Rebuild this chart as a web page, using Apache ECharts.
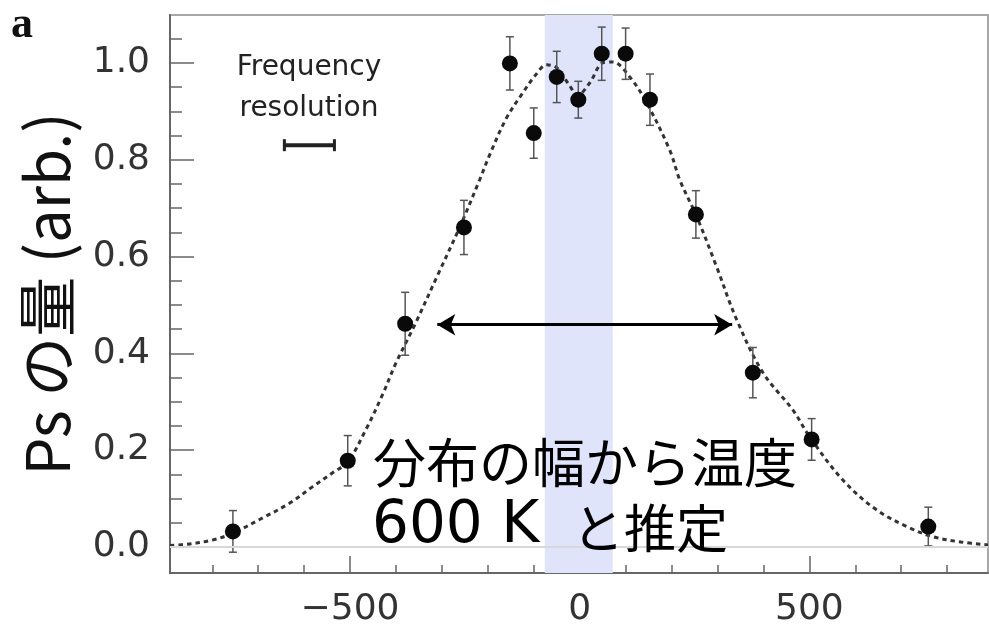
<!DOCTYPE html>
<html>
<head>
<meta charset="utf-8">
<script src="https://cdn.jsdelivr.net/npm/echarts@6/dist/echarts.min.js"></script>
<style>
html,body{margin:0;padding:0;background:#fff;}
#chart{width:989px;height:629px;}
</style>
</head>
<body>
<div id="chart"></div>
<script>
// measured points (x, Ps amount, error)
var ptX = [-755, -505, -380, -252, -152, -100, -50, -3, 48, 100, 153, 253, 377, 505, 759];
var ptY = [0.032, 0.178, 0.461, 0.660, 0.999, 0.855, 0.971, 0.924, 1.019, 1.019, 0.924, 0.687, 0.360, 0.222, 0.042];
var ptErr = [0.043, 0.052, 0.065, 0.056, 0.055, 0.052, 0.053, 0.038, 0.055, 0.053, 0.053, 0.049, 0.052, 0.043, 0.040];

// dotted fit curve
var fitX = [-892, -850, -800, -756, -690, -632, -582, -538, -505, -464, -429, -400, -359, -310, -261, -218, -196, -160, -124, -96, -72, -50, -26, -4, 22, 50, 72, 109, 146, 196, 218, 255, 298, 342, 399, 464, 501, 573, 647, 719, 769, 830, 889];
var fitY = [0.003, 0.006, 0.014, 0.028, 0.06, 0.09, 0.124, 0.153, 0.176, 0.245, 0.315, 0.38, 0.459, 0.56, 0.661, 0.758, 0.81, 0.885, 0.938, 0.975, 0.996, 0.99, 0.959, 0.934, 0.959, 1.0, 1.002, 0.971, 0.917, 0.82, 0.758, 0.682, 0.579, 0.469, 0.36, 0.283, 0.227, 0.138, 0.076, 0.039, 0.021, 0.01, 0.004];

var xLabelTicks = [-500, 0, 500];
var xMinorTicks = [-800, -700, -600, -400, -300, -200, -100, 100, 200, 300, 400, 600, 700, 800];
var yLabelTicks = [0, 0.2, 0.4, 0.6, 0.8, 1.0];
var yMinorTicks = [0.05, 0.1, 0.15, 0.25, 0.3, 0.35, 0.45, 0.5, 0.55, 0.65, 0.7, 0.75, 0.85, 0.9, 0.95, 1.05];

var bandX = [-76, 72];          // shaded blue band
var arrowX = [-310, 332];       // width arrow
var arrowY = 0.459;
var resBar = [-643, -534, 0.83]; // frequency resolution bar

var xMin = -892, xMax = 889, yMin = -0.054, yMax = 1.099;

var errData = ptX.map(function(x, i){ return [x, ptY[i] - ptErr[i], ptY[i] + ptErr[i]]; });
var ptData = ptX.map(function(x, i){ return [x, ptY[i]]; });
var fitData = fitX.map(function(x, i){ return [x, fitY[i]]; });

function fmtX(v){
	return v < 0 ? '\u2212' + Math.abs(v) : String(v);
}

function errItem(params, api){
	var x = api.value(0);
	var lo = api.coord([x, api.value(1)]);
	var hi = api.coord([x, api.value(2)]);
	var w = 4;
	var st = {stroke:'#555', lineWidth:1.5};
	return {type:'group', children:[
		{type:'line', shape:{x1:lo[0], y1:lo[1], x2:hi[0], y2:hi[1]}, style:st},
		{type:'line', shape:{x1:lo[0]-w, y1:lo[1], x2:lo[0]+w, y2:lo[1]}, style:st},
		{type:'line', shape:{x1:hi[0]-w, y1:hi[1], x2:hi[0]+w, y2:hi[1]}, style:st}
	]};
}

function barItem(params, api){
	var a = api.coord([api.value(0), api.value(2)]);
	var b = api.coord([api.value(1), api.value(2)]);
	var st = {stroke:'#222', lineWidth:4};
	var cs = {stroke:'#222', lineWidth:3};
	return {type:'group', children:[
		{type:'line', shape:{x1:a[0], y1:a[1], x2:b[0], y2:b[1]}, style:st},
		{type:'line', shape:{x1:a[0], y1:a[1]-6, x2:a[0], y2:a[1]+6}, style:cs},
		{type:'line', shape:{x1:b[0], y1:b[1]-6, x2:b[0], y2:b[1]+6}, style:cs}
	]};
}

var axisColor = '#666';

var option = {
	animation: false,
	backgroundColor: '#fff',
	grid: {left:170, right:1, top:15, bottom:56, show:true, borderColor:'#a8a8a8', borderWidth:2},
	xAxis: [
		{
			type:'value', min:xMin, max:xMax, position:'bottom',
			axisLine:{show:true, onZero:false, lineStyle:{color:axisColor, width:2}},
			axisTick:{show:true, inside:true, length:17, customValues:xLabelTicks, lineStyle:{color:axisColor, width:1.5}},
			axisLabel:{customValues:xLabelTicks, formatter:fmtX, fontFamily:'DejaVu Sans', fontSize:36, color:'#333', margin:19},
			splitLine:{show:false}
		},
		{
			type:'value', min:xMin, max:xMax, position:'bottom',
			axisLine:{show:false, onZero:false},
			axisTick:{show:true, inside:true, length:8, customValues:xMinorTicks, lineStyle:{color:axisColor, width:1.5}},
			axisLabel:{show:false},
			splitLine:{show:false}
		}
	],
	yAxis: [
		{
			type:'value', min:yMin, max:yMax, position:'left',
			name:'Ps の量 (arb.)', nameLocation:'middle', nameGap:93,
			nameTextStyle:{fontFamily:'Noto Sans CJK JP', fontSize:60, color:'#111'},
			axisLine:{show:true, onZero:false, lineStyle:{color:axisColor, width:2}},
			axisTick:{show:true, inside:true, length:24, customValues:yLabelTicks, lineStyle:{color:axisColor, width:1.5}},
			axisLabel:{customValues:yLabelTicks, formatter:function(v){ return v.toFixed(1); }, fontFamily:'DejaVu Sans', fontSize:36, color:'#333', margin:20},
			splitLine:{show:false}
		},
		{
			type:'value', min:yMin, max:yMax, position:'left',
			axisLine:{show:false, onZero:false},
			axisTick:{show:true, inside:true, length:12, customValues:yMinorTicks, lineStyle:{color:axisColor, width:1.5}},
			axisLabel:{show:false},
			splitLine:{show:false}
		}
	],
	graphic: [
		{type:'text', left:11, top:4, style:{text:'a', font:'bold 44px "Liberation Serif"', fill:'#111'}},
		{type:'text', x:309, y:68, style:{text:'Frequency', font:'28px "DejaVu Sans"', fill:'#222', align:'center', verticalAlign:'middle'}},
		{type:'text', x:309, y:109, style:{text:'resolution', font:'28px "DejaVu Sans"', fill:'#222', align:'center', verticalAlign:'middle'}},
		{type:'text', x:373, y:463, z:20, style:{text:'分布の幅から温度', font:'53px "Noto Sans CJK JP"', fill:'#000', verticalAlign:'middle'}},
		{type:'text', x:372, y:527, z:20, style:{text:'600 K', font:'58px "DejaVu Sans"', fill:'#000', verticalAlign:'middle'}},
		{type:'text', x:572, y:528, z:20, style:{text:'と推定', font:'52px "Noto Sans CJK JP"', fill:'#000', verticalAlign:'middle'}}
	],
	series: [
		{
			type:'line', data:[], z:1, silent:true,
			markArea:{silent:true, itemStyle:{color:'#e0e4fb'}, data:[[{xAxis:bandX[0]}, {xAxis:bandX[1]}]]},
			markLine:{silent:true, symbol:'none', label:{show:false}, lineStyle:{color:'#d8d8d8', width:2, type:'solid'}, data:[{yAxis:0}]}
		},
		{
			type:'line', data:fitData, z:3, smooth:0.35, showSymbol:false, silent:true,
			lineStyle:{color:'#333', width:3, type:[4.5, 4]}
		},
		{
			type:'custom', data:errData, z:4, silent:true, renderItem:errItem,
			encode:{x:0, y:[1, 2]}
		},
		{
			type:'scatter', data:ptData, z:5, silent:true, symbol:'circle', symbolSize:16,
			itemStyle:{color:'#0a0a0a', opacity:1}
		},
		{
			type:'custom', data:[resBar], z:5, silent:true, renderItem:barItem,
			encode:{x:[0, 1], y:2}
		},
		{
			type:'line', data:[], z:6, silent:true,
			markLine:{
				silent:true, symbol:['arrow', 'arrow'], symbolSize:[16, 18],
				label:{show:false},
				lineStyle:{color:'#000', width:3, type:'solid'},
				data:[[{coord:[arrowX[0], arrowY]}, {coord:[arrowX[1], arrowY]}]]
			}
		}
	]
};

var myChart = echarts.init(document.getElementById('chart'));
myChart.setOption(option);
</script>
</body>
</html>
